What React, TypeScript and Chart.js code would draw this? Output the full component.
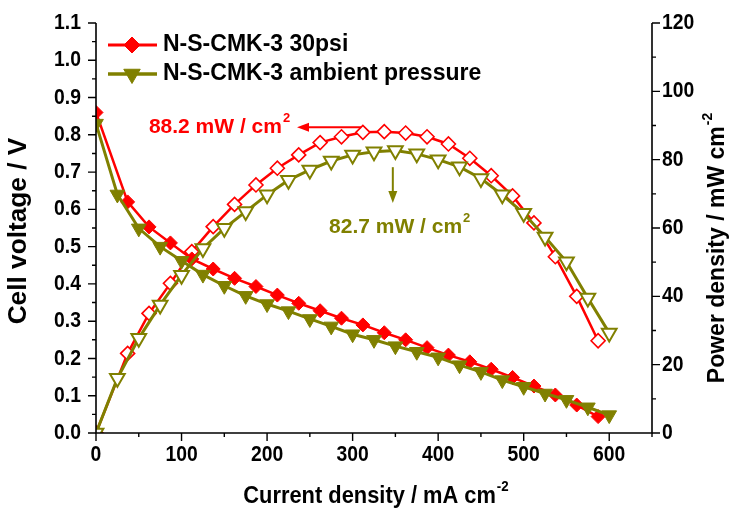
import React, { useEffect, useRef } from 'react';
import { Chart, registerables } from 'chart.js';

Chart.register(...registerables);

// ---- data ----
const redCurrent = [0, 37, 62, 87, 112, 137, 162, 187, 212, 237, 262, 287, 312, 337, 362, 387, 412, 437, 462, 487, 512, 537, 562, 587];
const redVoltage = [0.86, 0.62, 0.553, 0.51, 0.467, 0.44, 0.415, 0.393, 0.37, 0.348, 0.328, 0.308, 0.29, 0.269, 0.25, 0.229, 0.209, 0.191, 0.171, 0.149, 0.126, 0.102, 0.075, 0.044];
const redPower = [0, 23.3, 35.0, 43.8, 53.1, 60.4, 66.9, 72.6, 77.5, 81.4, 85.0, 86.7, 88.0, 88.2, 87.8, 86.7, 84.6, 80.4, 75.3, 69.4, 61.5, 51.6, 40.0, 27.0];

const oliveCurrent = [0, 25, 50, 75, 100, 125, 150, 175, 200, 225, 250, 275, 300, 325, 350, 375, 400, 425, 450, 475, 500, 525, 550, 575, 600];
const oliveVoltage = [0.83, 0.64, 0.549, 0.5, 0.462, 0.425, 0.395, 0.368, 0.346, 0.327, 0.306, 0.286, 0.265, 0.25, 0.233, 0.218, 0.203, 0.182, 0.164, 0.142, 0.124, 0.106, 0.089, 0.069, 0.048];
const olivePower = [0, 16.0, 27.7, 37.5, 46.2, 54, 59.9, 64.8, 69.7, 74, 77, 79.6, 81.4, 82.3, 82.7, 81.7, 80.0, 77.9, 74.5, 69.7, 64.3, 57.4, 50.1, 39.5, 29.3];

const xTicks = [0, 100, 200, 300, 400, 500, 600];
const leftTicks = [0, 0.1, 0.2, 0.3, 0.4, 0.5, 0.6, 0.7, 0.8, 0.9, 1.0, 1.1];
const rightTicks = [0, 20, 40, 60, 80, 100, 120];

const seriesLabels = ['N-S-CMK-3 30psi', 'N-S-CMK-3 ambient pressure'];
const xTitle = 'Current density / mA cm';
const leftTitle = 'Cell voltage / V';
const rightTitle = 'Power density / mW cm';
const redNote = '88.2 mW / cm';
const oliveNote = '82.7 mW / cm';

const RED = '#ff0000';
const OLIVE = '#808000';
const FONT = '"Liberation Sans", Arial, sans-serif';

function pts(xs: number[], ys: number[]) {
  return xs.map((x, i) => ({ x, y: ys[i] }));
}

// draw text (optionally with superscript) at anchor, with horizontal squeeze sx
function drawText(
  ctx: CanvasRenderingContext2D,
  main: string,
  sup: string,
  x: number,
  y: number,
  size: number,
  align: 'left' | 'center' | 'right',
  sx = 1
) {
  ctx.save();
  ctx.translate(x, y);
  ctx.scale(sx, 1);
  ctx.font = `bold ${size}px ${FONT}`;
  const w1 = ctx.measureText(main).width;
  const supSize = Math.round(size * 0.62);
  ctx.font = `bold ${supSize}px ${FONT}`;
  const w2 = sup ? ctx.measureText(sup).width + 1 : 0;
  const total = w1 + w2;
  let start = 0;
  if (align === 'center') start = -total / 2;
  if (align === 'right') start = -total;
  ctx.textAlign = 'left';
  ctx.textBaseline = 'middle';
  ctx.font = `bold ${size}px ${FONT}`;
  ctx.fillText(main, start, 0);
  if (sup) {
    ctx.font = `bold ${supSize}px ${FONT}`;
    ctx.fillText(sup, start + w1 + 1, -size * 0.42);
  }
  ctx.restore();
}

function drawMarker(ctx: CanvasRenderingContext2D, style: string, x: number, y: number, r: number, color: string) {
  ctx.save();
  ctx.fillStyle = color;
  ctx.strokeStyle = color;
  ctx.lineWidth = 1;
  ctx.beginPath();
  if (style === 'rectRot') {
    ctx.moveTo(x, y - r);
    ctx.lineTo(x + r, y);
    ctx.lineTo(x, y + r);
    ctx.lineTo(x - r, y);
  } else {
    const h = r * 1.5;
    const w = (r * Math.sqrt(3)) / 2;
    ctx.moveTo(x, y + r);
    ctx.lineTo(x - w, y + r - h);
    ctx.lineTo(x + w, y + r - h);
  }
  ctx.closePath();
  ctx.fill();
  ctx.stroke();
  ctx.restore();
}

const customPlugin = {
  id: 'customDecor',
  afterDraw(chart: any) {
    const ctx: CanvasRenderingContext2D = chart.ctx;
    const { left, right, top, bottom } = chart.chartArea;
    const xs = chart.scales.x;
    const yl = chart.scales.y;
    const yr = chart.scales.y1;
    ctx.save();
    ctx.strokeStyle = '#000';
    ctx.fillStyle = '#000';
    ctx.lineWidth = 1.6;
    ctx.beginPath();
    ctx.moveTo(left, top);
    ctx.lineTo(left, bottom);
    ctx.lineTo(right, bottom);
    ctx.lineTo(right, top);
    ctx.stroke();

    ctx.lineWidth = 1.4;
    ctx.beginPath();
    for (let v = 0; v <= 650; v += 50) {
      const px = xs.getPixelForValue(v);
      const len = v % 100 === 0 ? 8 : 4;
      ctx.moveTo(px, bottom);
      ctx.lineTo(px, bottom + len);
    }
    for (let k = 0; k <= 22; k++) {
      const py = yl.getPixelForValue(k * 0.05);
      const len = k % 2 === 0 ? 8 : 4;
      ctx.moveTo(left, py);
      ctx.lineTo(left - len, py);
    }
    for (let v = 0; v <= 120; v += 10) {
      const py = yr.getPixelForValue(v);
      const len = v % 20 === 0 ? 8 : 4;
      ctx.moveTo(right, py);
      ctx.lineTo(right + len, py);
    }
    ctx.stroke();

    // tick labels
    ctx.fillStyle = '#000';
    xTicks.forEach((v) => drawText(ctx, String(v), '', xs.getPixelForValue(v), bottom + 22, 22, 'center', 0.88));
    leftTicks.forEach((v) => drawText(ctx, v.toFixed(1), '', left - 15, yl.getPixelForValue(v), 22, 'right', 0.88));
    rightTicks.forEach((v) => drawText(ctx, String(v), '', right + 10, yr.getPixelForValue(v), 22, 'left', 0.88));

    // axis titles
    drawText(ctx, xTitle, '-2', (left + right) / 2 + 2, 497, 23, 'center', 0.95);

    ctx.save();
    ctx.translate(19, 231);
    ctx.rotate(-Math.PI / 2);
    drawText(ctx, leftTitle, '', 0, 0, 25, 'center', 1.05);
    ctx.restore();

    ctx.save();
    ctx.translate(718, 248);
    ctx.rotate(-Math.PI / 2);
    drawText(ctx, rightTitle, '-2', 0, 0, 23, 'center', 1);
    ctx.restore();

    // legend
    const rows = [
      { label: seriesLabels[0], color: RED, style: 'rectRot', r: 8, y: 45, lw: 3 },
      { label: seriesLabels[1], color: OLIVE, style: 'triangle', r: 9.5, y: 74, lw: 3.5 },
    ];
    rows.forEach((row) => {
      ctx.strokeStyle = row.color;
      ctx.lineWidth = row.lw;
      ctx.beginPath();
      ctx.moveTo(108, row.y);
      ctx.lineTo(157, row.y);
      ctx.stroke();
      drawMarker(ctx, row.style, 132, row.y, row.r, row.color);
      ctx.fillStyle = '#000';
      drawText(ctx, row.label, '', 163, row.y, 23, 'left', 1);
    });

    // annotations (data coordinates)
    const ry = yr.getPixelForValue(89.5);
    const rx1 = xs.getPixelForValue(310);
    const rx0 = xs.getPixelForValue(235);
    ctx.strokeStyle = RED;
    ctx.fillStyle = RED;
    ctx.lineWidth = 2;
    ctx.beginPath();
    ctx.moveTo(rx1, ry);
    ctx.lineTo(rx0 + 8, ry);
    ctx.stroke();
    ctx.beginPath();
    ctx.moveTo(rx0, ry);
    ctx.lineTo(rx0 + 12, ry - 4.5);
    ctx.lineTo(rx0 + 12, ry + 4.5);
    ctx.closePath();
    ctx.fill();
    drawText(ctx, redNote, '2', xs.getPixelForValue(227), yr.getPixelForValue(89.5), 21, 'right', 1);

    const ox = xs.getPixelForValue(347);
    const oy0 = yr.getPixelForValue(77.8);
    const oy1 = yr.getPixelForValue(67.3);
    ctx.strokeStyle = OLIVE;
    ctx.fillStyle = OLIVE;
    ctx.beginPath();
    ctx.moveTo(ox, oy0);
    ctx.lineTo(ox, oy1 - 8);
    ctx.stroke();
    ctx.beginPath();
    ctx.moveTo(ox, oy1);
    ctx.lineTo(ox - 4.5, oy1 - 12);
    ctx.lineTo(ox + 4.5, oy1 - 12);
    ctx.closePath();
    ctx.fill();
    drawText(ctx, oliveNote, '2', xs.getPixelForValue(355), yr.getPixelForValue(60.2), 21, 'center', 1);

    ctx.restore();
  },
};

export default function App() {
  const ref = useRef<HTMLCanvasElement | null>(null);
  useEffect(() => {
    if (!ref.current) return;
    const hidden = { display: false };
    const chart = new Chart(ref.current, {
      type: 'line',
      data: {
        datasets: [
          {
            label: seriesLabels[1] + ' V',
            data: pts(oliveCurrent, oliveVoltage),
            borderColor: OLIVE,
            backgroundColor: OLIVE,
            borderWidth: 3,
            pointStyle: 'triangle',
            rotation: 180,
            pointRadius: 8.5,
            pointBorderWidth: 1,
            pointBackgroundColor: OLIVE,
            yAxisID: 'y',
            tension: 0,
          },
          {
            label: seriesLabels[1] + ' P',
            data: pts(oliveCurrent, olivePower),
            borderColor: OLIVE,
            backgroundColor: '#ffffff',
            borderWidth: 3,
            pointStyle: 'triangle',
            rotation: 180,
            pointRadius: 8.5,
            pointBorderWidth: 2,
            pointBackgroundColor: '#ffffff',
            yAxisID: 'y1',
            tension: 0,
          },
          {
            label: seriesLabels[0] + ' V',
            data: pts(redCurrent, redVoltage),
            borderColor: RED,
            backgroundColor: RED,
            borderWidth: 2.5,
            pointStyle: 'rectRot',
            pointRadius: 7,
            pointBorderWidth: 1,
            pointBackgroundColor: RED,
            yAxisID: 'y',
            tension: 0,
          },
          {
            label: seriesLabels[0] + ' P',
            data: pts(redCurrent, redPower),
            borderColor: RED,
            backgroundColor: '#ffffff',
            borderWidth: 2.5,
            pointStyle: 'rectRot',
            pointRadius: 7,
            pointBorderWidth: 1.6,
            pointBackgroundColor: '#ffffff',
            yAxisID: 'y1',
            tension: 0,
          },
        ],
      },
      options: {
        animation: false,
        responsive: false,
        devicePixelRatio: 1,
        layout: { padding: { top: 23, left: 0, right: 0, bottom: 0 } },
        plugins: {
          legend: { display: false },
          tooltip: { enabled: false },
        },
        scales: {
          x: {
            type: 'linear',
            min: 0,
            max: 650,
            grid: { display: false, drawTicks: false },
            border: { display: false },
            afterBuildTicks: (s: any) => { s.ticks = xTicks.map((v) => ({ value: v })); },
            afterFit: (s: any) => { s.height = 81; },
            ticks: hidden,
          },
          y: {
            type: 'linear',
            position: 'left',
            min: 0,
            max: 1.1,
            grid: { display: false, drawTicks: false },
            border: { display: false },
            afterBuildTicks: (s: any) => { s.ticks = leftTicks.map((v) => ({ value: v })); },
            afterFit: (s: any) => { s.width = 96; },
            ticks: hidden,
          },
          y1: {
            type: 'linear',
            position: 'right',
            min: 0,
            max: 120,
            grid: { display: false, drawTicks: false },
            border: { display: false },
            afterBuildTicks: (s: any) => { s.ticks = rightTicks.map((v) => ({ value: v })); },
            afterFit: (s: any) => { s.width = 81; },
            ticks: hidden,
          },
        },
      },
      plugins: [customPlugin],
    });
    return () => chart.destroy();
  }, []);
  return (
    <div style={{ position: 'fixed', left: 0, top: 0, width: 733, height: 514, background: '#fff' }}>
      <canvas ref={ref} width={733} height={514} style={{ width: 733, height: 514 }} />
    </div>
  );
}
